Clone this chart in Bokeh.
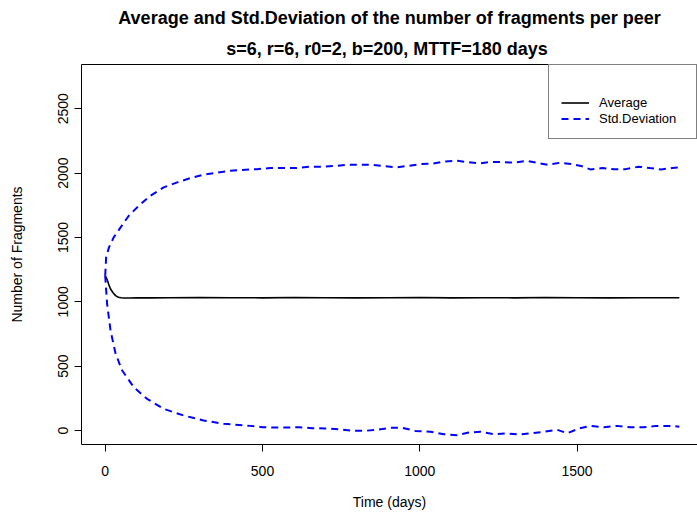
from bokeh.plotting import figure
from bokeh.models import Legend, LegendItem, FixedTicker, LinearAxis, Range1d, Title
from bokeh.embed import file_html
from bokeh.resources import INLINE

FONT = "Liberation Sans"

# ---- data ----
title_main = "Average and Std.Deviation of the number of fragments per peer"
title_sub = "s=6, r=6, r0=2, b=200,  MTTF=180 days"
x_label = "Time (days)"
y_label = "Number of Fragments"
x_ticks = [0, 500, 1000, 1500]
y_ticks = [0, 500, 1000, 1500, 2000, 2500]

avg_days = [0, 4, 8, 12, 17, 25, 33, 42, 50, 60, 80, 100, 150, 200, 300, 400, 500,
            600, 700, 800, 900, 1000, 1100, 1200, 1300, 1400, 1500, 1600, 1700, 1825]
avg_vals = [1200, 1185, 1160, 1130, 1100, 1070, 1048, 1036, 1031, 1030, 1030, 1031,
            1031, 1032, 1033, 1032, 1031, 1033, 1032, 1031, 1032, 1033, 1031, 1032,
            1031, 1033, 1032, 1031, 1032, 1032]

upper_days = [0, 3, 12, 27, 49, 75, 107, 144, 186, 229, 271, 313, 398, 483, 525, 563,
              605, 647, 684, 727, 769, 806, 849, 886, 923, 960, 1002, 1042, 1082, 1119,
              1151, 1188, 1223, 1259, 1299, 1339, 1371, 1407, 1447, 1481, 1513, 1542,
              1580, 1617, 1654, 1696, 1731, 1767, 1802, 1825]
upper_vals = [1203, 1346, 1423, 1501, 1578, 1669, 1747, 1825, 1889, 1928, 1962, 1988,
              2019, 2031, 2039, 2039, 2039, 2050, 2050, 2055, 2065, 2065, 2065, 2055,
              2044, 2055, 2070, 2075, 2091, 2096, 2086, 2075, 2086, 2086, 2081, 2096,
              2081, 2065, 2081, 2070, 2055, 2029, 2039, 2031, 2031, 2050, 2039, 2029,
              2039, 2045]

lower_days = [0, 6, 17, 33, 54, 91, 133, 186, 250, 313, 377, 462, 499, 541, 578, 615,
              658, 700, 740, 780, 822, 862, 905, 944, 986, 1034, 1076, 1119, 1156, 1193,
              1235, 1278, 1318, 1357, 1394, 1437, 1469, 1506, 1542, 1585, 1627, 1669,
              1712, 1752, 1792, 1825]
lower_vals = [1203, 985, 776, 597, 466, 336, 246, 168, 116, 78, 52, 36, 26, 23, 23, 26,
              18, 16, 10, 0, -3, 5, 21, 21, -3, -10, -29, -36, -16, -10, -29, -23, -31,
              -21, -10, 5, -21, 16, 36, 26, 36, 26, 26, 36, 36, 30]

p = figure(width=697, height=520, output_backend="svg", toolbar_location=None,
           x_range=Range1d(-75.3, 1882.7), y_range=Range1d(-108.7, 2844),
           min_border_left=81, min_border_right=0, min_border_top=64,
           min_border_bottom=76, title=None)
p.grid.visible = False
p.outline_line_color = None
p.background_fill_color = "white"
p.border_fill_color = "white"

for ax, ticks in ((p.xaxis[0], x_ticks), (p.yaxis[0], y_ticks)):
    ax.ticker = FixedTicker(ticks=ticks)
    ax.minor_tick_line_color = None
    ax.major_tick_in = 0
    ax.major_tick_out = 7
    ax.axis_line_color = "black"
    ax.major_tick_line_color = "black"
    ax.major_label_text_font = FONT
    ax.major_label_text_font_size = "14px"
    ax.major_label_text_color = "black"
    ax.axis_label_text_font = FONT
    ax.axis_label_text_font_size = "14px"
    ax.axis_label_text_font_style = "normal"
    ax.axis_label_text_color = "black"

p.xaxis.axis_label = x_label
p.xaxis.major_label_standoff = 14
p.xaxis.axis_label_standoff = 15
p.yaxis.axis_label = y_label
p.yaxis.major_label_orientation = "vertical"
p.yaxis.major_label_standoff = 6
p.yaxis.axis_label_standoff = 31

top = LinearAxis(ticker=FixedTicker(ticks=[]), axis_line_color="black",
                 major_tick_line_color=None, minor_tick_line_color=None,
                 major_label_text_font_size="0px")
p.add_layout(top, "above")

p.add_layout(Title(text=title_sub, align="center", vertical_align="middle",
                   text_font=FONT, text_font_size="18px", text_font_style="bold",
                   text_color="black", offset=2), "above")
p.add_layout(Title(text=title_main, align="center", text_font=FONT,
                   text_font_size="18px", text_font_style="bold",
                   text_color="black", offset=2), "above")

r_avg = p.line(avg_days, avg_vals, line_color="black", line_width=1.6)
r_up = p.line(upper_days, upper_vals, line_color="#0000FF", line_width=2, line_dash="7 5")
r_lo = p.line(lower_days, lower_vals, line_color="#0000FF", line_width=2, line_dash="7 5")

legend = Legend(items=[LegendItem(label="Average", renderers=[r_avg]),
                       LegendItem(label="Std.Deviation", renderers=[r_up])],
                location="top_right", margin=0, padding=12, title=" ",
                title_text_font=FONT, title_text_font_size="13px", title_standoff=3,
                label_text_font=FONT, label_text_font_size="13px",
                label_text_color="black",
                glyph_width=28, glyph_height=15, label_height=15, spacing=1,
                label_standoff=10, label_width=85,
                border_line_color="black", border_line_width=1,
                background_fill_color="white", background_fill_alpha=1.0)
p.add_layout(legend)

open("out.html", "w").write(file_html(p, INLINE))
